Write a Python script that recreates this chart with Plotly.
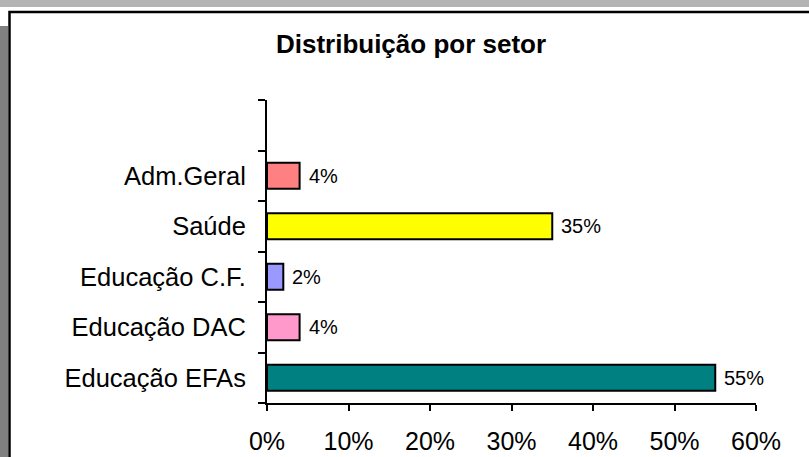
import plotly.graph_objects as go

# Data
categories = ["Educação EFAs", "Educação DAC", "Educação C.F.", "Saúde", "Adm.Geral"]
values = [55, 4, 2, 35, 4]
bar_colors = ["#008080", "#FF99CC", "#9999FF", "#FFFF00", "#FF8080"]
x_ticks = [0, 10, 20, 30, 40, 50, 60]
title_text = "Distribuição por setor"

W, H = 809, 457
L, R, T, B = 267, 756, 100, 403

def fx(px):
    return (px - L) / (R - L)

def fy(py):
    return (B - py) / (B - T)

FONT = "Liberation Sans, Arial, sans-serif"

fig = go.Figure()
fig.add_trace(go.Bar(
    x=values, y=categories, orientation="h",
    marker=dict(color=bar_colors, line=dict(color="black", width=2)),
    showlegend=False, hoverinfo="skip",
))

annotations = []
for c, v in zip(categories, values):
    annotations.append(dict(
        x=v, y=c, xref="x", yref="y", text=f"{v}%", showarrow=False,
        xanchor="left", yanchor="middle", xshift=7,
        font=dict(family=FONT, size=20, color="black"),
    ))

shapes = [
    dict(type="rect", xref="paper", yref="paper", x0=fx(0), x1=fx(W), y0=fy(7), y1=fy(0),
         fillcolor="#b3b3b3", line=dict(width=0), layer="below"),
    dict(type="rect", xref="paper", yref="paper", x0=fx(0), x1=fx(8), y0=fy(H), y1=fy(26),
         fillcolor="#808080", line=dict(width=0), layer="below"),
    dict(type="rect", xref="paper", yref="paper", x0=fx(9.5), x1=fx(840), y0=fy(490), y1=fy(12),
         fillcolor="rgba(0,0,0,0)", line=dict(color="black", width=2.5), layer="below"),
]

fig.update_layout(
    width=W, height=H, autosize=False,
    margin=dict(l=L, r=W - R, t=T, b=H - B, pad=0),
    paper_bgcolor="white", plot_bgcolor="white",
    bargap=0.485,
    title=dict(text=f"<b>{title_text}</b>", x=411 / W, y=1 - 44 / H,
               xref="container", yref="container", xanchor="center", yanchor="middle",
               font=dict(family=FONT, size=26, color="black"), automargin=False),
    xaxis=dict(range=[0, 60], tickvals=x_ticks, ticktext=[f"{t}%" for t in x_ticks],
               automargin=False,
               showgrid=False, zeroline=False, showline=True, linecolor="black", linewidth=2,
               ticks="outside", ticklen=6, tickwidth=2, tickcolor="black",
               ticklabelstandoff=9,
               tickfont=dict(family=FONT, size=25, color="black")),
    yaxis=dict(type="category", categoryorder="array", categoryarray=categories + [" "],
               range=[-0.5, 5.5], tickson="boundaries", automargin=False,
               showgrid=False, zeroline=False, showline=True, linecolor="black", linewidth=2,
               ticks="outside", ticklen=7, tickwidth=2, tickcolor="black",
               ticklabelstandoff=14,
               tickfont=dict(family=FONT, size=25.5, color="black")),
    annotations=annotations, shapes=shapes,
    font=dict(family=FONT, color="black"),
)

fig.write_html("out.html", config={"displayModeBar": False},
               post_script="document.body.style.margin='0';document.body.style.overflow='hidden';")
